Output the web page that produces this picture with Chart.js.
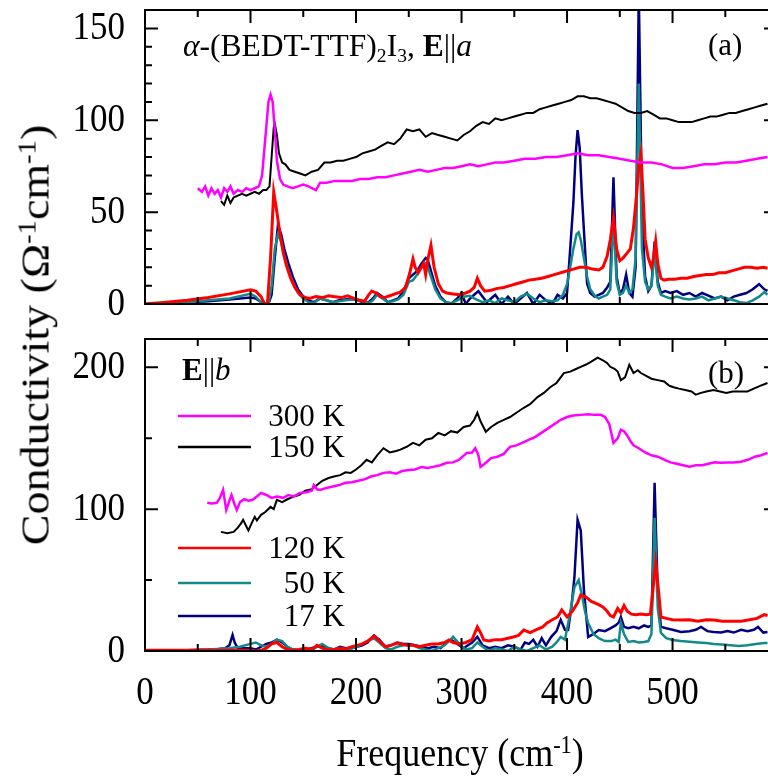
<!DOCTYPE html>
<html>
<head>
<meta charset="utf-8">
<script src="https://cdn.jsdelivr.net/npm/chart.js@4/dist/chart.umd.min.js"></script>
<style>
  html, body { margin: 0; padding: 0; background: #fff; }
  body { width: 768px; height: 778px; overflow: hidden; position: relative;
         font-family: "Liberation Serif", "DejaVu Serif", serif; color: #000; }
  canvas { position: absolute; left: 0; }
  #topChart { top: 0; }
  #botChart { top: 330px; }
  .txt { position: absolute; white-space: nowrap; line-height: 1; }
  sub, sup { font-size: 0.62em; line-height: 0; position: relative; vertical-align: baseline; }
  sub { top: 0.32em; }
  sup { top: -0.55em; }
</style>
</head>
<body>
<canvas id="topChart" width="777" height="338"></canvas>
<canvas id="botChart" width="777" height="448"></canvas>

<div class="txt" style="left:35px; top:335px; font-size:39px; transform:translate(-50%,-50%) rotate(-90deg) scaleX(1.18);">Conductivity (&Omega;<sup>-1</sup>cm<sup>-1</sup>)</div>
<div class="txt" style="left:460px; top:753px; font-size:36px; transform:translate(-50%,-50%) scaleY(1.12);">Frequency (cm<sup>-1</sup>)</div>
<div class="txt" style="left:183px; top:30px; font-size:31.5px;"><i>&alpha;</i>-(BEDT-TTF)<sub>2</sub>I<sub>3</sub>, <b>E</b>||<i>a</i></div>
<div class="txt" style="left:708px; top:29px; font-size:31px;">(a)</div>
<div class="txt" style="left:182px; top:354px; font-size:31px;"><b>E</b>||<i>b</i></div>
<div class="txt" style="left:708px; top:357px; font-size:31px;">(b)</div>

<script>
// legend labels and colours, same order in both panels
const temps = ["300 K", "150 K", "120 K", "50 K", "17 K"]
const colors = ["#ff00ff", "#000000", "#ff0000", "#138a8a", "#000080"]
const widths = [2.5, 2, 3, 2.5, 2.5]

// tick labels
const xTicks = [0, 100, 200, 300, 400, 500]
const aTicks = [0, 50, 100, 150]
const bTicks = [0, 100, 200]

// ---------- panel (a), E || a

const a300f = [50,54,57,60,63,66,69,72,75,78, 81,84,88,92,96,100,104,108,111,114,
  117,119,121,123,125,128,131,135,140,145, 150,155,158,162,166,172,180,188,196,204,
  212,220,228,236,244,252,260,268,276,284, 292,300,308,316,324,332,340,350,360,370,
  380,390,400,410,420,430,440,450,460,470, 480,490,500,510,520,530,540,550,560,570, 580,590]
const a300 = [63,61,64,59,63,60,62,58,63,61, 64,60,62,61,63,62,63,64,70,90,
  110,114,110,95,78,68,65,64,63,64, 65,64,63,62,66,66,67,67,67,68,
  68,69,69,70,71,72,73,72,73,74, 74,75,76,75,76,77,77,78,79,79,
  80,80,81,82,81,81,80,79,78,77, 77,76,74,74,75,76,76,77,77,78, 79,80]

const a150f = [72,75,78,81,84,88,92,96,100,104, 108,112,115,118,120,122,123,125,127,130,
  133,137,142,147,152,158,164,170,176,182, 188,194,200,206,212,218,224,230,236,242,
  248,254,260,266,272,278,284,290,296,302, 308,314,320,326,332,338,344,350,356,362,
  368,374,380,386,392,398,404,410,416,422, 428,434,440,446,452,458,464,470,476,482,
  488,494,500,506,512,518,524,530,536,542, 548,554,560,566,572,578,584,590]
const a150 = [56,54,59,55,58,59,60,59,60,61, 60,62,62,64,80,96,98,92,82,77,
  76,73,72,71,70,72,73,77,77,78, 78,79,80,82,83,84,86,88,87,90,
  95,94,95,91,93,92,91,90,89,92, 94,97,99,98,101,100,101,102,103,104,
  104,106,107,108,109,110,111,113,113,112, 112,111,110,109,107,105,104,104,105,103,
  101,101,100,99,99,99,100,101,102,102, 103,104,104,105,106,107,108,109]

const a120f = [0,20,40,60,80,100,105,110,113,116, 119,122,125,128,131,134,138,142,147,152,
  156,162,168,174,180,186,192,198,204,208, 212,215,219,223,227,232,237,242,247,251,
  254,256,259,261,264,266,268,271,274,278, 282,286,292,298,304,308,312,315,318,322,
  328,334,340,346,352,358,364,370,376,382, 388,394,400,406,412,418,424,430,434,438,
  441,444,447,450,453,457,460,463,466,468, 470,472,474,477,480,482,484,486,489,492,
  496,502,508,514,520,526,532,538,544,550, 556,562,568,574,580,586,590]
const a120 = [0,1,2,3.5,5.5,7.7,7,4,0.5,0, 25,61,50,38,28,21,14,9,5,3.5,
  3,4,3.5,4.5,4,3.5,4.5,3,2,1.5, 5,7,6,4,3.5,4.5,5.5,6.5,9,17,
  24.5,20,17,19,22,16,24,32,20,11, 7,6,5.5,5,6,7,9,14,10,7,
  7.5,8.5,9,10,11,12,13,13.5,14,15, 16,17,18,19,20,20,19,18.5,20,26,
  35,46.8,30,23.6,25,27.8,30,41.6,60,75, 81.8,60,35,25,20,25,34,22,14,13,
  13.5,13.5,14,14,15,15.5,16,16,17,17, 18,19,20,20,19.5,20,19.5]

const a50f = [0,20,40,60,80,100,105,110,114,117, 120,123,126,129,132,136,140,145,150,155,
  160,166,172,178,184,190,196,202,208,212, 216,220,225,230,235,240,245,250,254,258,
  262,266,268,271,275,280,285,290,296,302, 308,312,316,320,326,332,338,344,350,356,
  362,368,374,380,386,391,396,400,403,406, 409,411,413,416,419,422,426,430,434,438,
  441,444,447,450,453,456,459,462,465,468, 471,474,477,480,483,486,489,493,498,504,
  510,516,522,528,534,540,546,552,558,564, 570,576,582,587,590]
const a50 = [0,0.5,1,2,3,5.5,4,1,0,0, 10,30,38,34,26,18,12,6,3,1,
  0.5,3,2,1,1.5,2,2.5,2,1,0.5, 2,5,3,1,1.5,2.5,5,12,13,16,
  20,22,20,15,8,3,1,0.5,2,4, 4.5,3,2,1,2,0.5,3,2,1,4,
  5.6,3,1,2,1.5,2,5,10.8,20,30, 38,39,35,25,15,8,4.6,3,4,5,
  8,47,12,5,6,10,6,8,25,120, 30,12,8,10,28,10,5,4,3,4,
  3,2.5,3,4,2,3,4,3,2,1, 0.5,2,4,6.5,5]

const a17f = [0,20,40,60,80,100,105,110,114,117, 120,123,126,129,132,136,140,145,150,155,
  160,166,172,178,184,190,196,202,208,212, 216,220,225,230,235,240,245,250,254,258,
  262,266,268,271,275,280,285,290,296,300, 304,308,312,316,320,324,328,332,338,344,
  350,356,362,368,374,380,386,391,396,400, 403,406,408,410,412,414,416,419,422,426,
  430,434,438,441,444,447,450,453,456,459, 462,465,468,471,474,477,480,483,486,489,
  493,498,504,510,516,522,528,534,540,546, 552,558,564,570,576,582,587,590]
const a17 = [0,0.5,1,1.5,2.5,3.5,3,1,0,0, 5,25,43,38,30,22,15,8,4,2,
  1,3,2,1,2,2.5,3,2,0.5,1, 3,6,4,1,2,3,7,14,16,18,
  22,25,24,18,10,4,1,0,3,6, 0,3,5,7,4,1,3,5,0,4,
  0,3,6,0,5,2,0,5,3,6, 30,55,80,94.6,85,60,40,11,6,4,
  5,6,9,12,69,15,5.6,8,16,6, 4,20,170,50,15,7,10,34,12,6,
  7,6,7,5,6,4,6,4.6,3,4, 2,4,5,6,8,10.8,8,7.2]

// ---------- panel (b), E || b

const b300f = [59,63,68,71,74,77,80,82,85,87, 90,94,98,102,106,110,115,120,125,131,
  136,141,147,153,158,160,163,166,172,178, 184,190,196,202,208,214,220,226,232,238,
  244,250,256,262,268,274,280,286,292,298, 305,310,313,316,318,322,328,334,340,346,
  352,358,364,370,376,382,388,394,400,406, 413,420,426,432,436,440,444,448,451,454,
  457,460,463,468,474,480,486,492,498,504, 510,516,522,528,534,540,546,552,558,565, 572,578,584,590]
const b300 = [104.5,104,104.5,108,113.6,99.5,106,110,103,99.5, 105,107,106,106.6,109,111.5,110,108,109,108,
  110,109,111.5,112,113,117,114,113.6,115,116, 117,118.6,119,120,121,123,124,125.6,126,125,
  127,127.7,128,129.8,129,130,131,132.7,133,135, 139.7,140,143,138,129.8,132,136,137,139,144,
  145,147,149,151,154,157,160,163,165,166, 166.5,167,166.5,166.5,165,160,146.8,150,156,155,
  152,148,145,143,140,138,137,135,133,132, 131,130,131,131,132,133,132.7,133,133,133.4, 135,137,138,139.7]

const b150f = [72,78,84,88,91,93,96,98,101,104, 106,110,114,119,122,125,130,135,140,146,
  152,158,163,168,174,179,185,190,195,200, 205,210,215,220,226,232,238,242,248,254,
  260,266,272,278,284,290,296,302,308,312, 315,318,323,328,334,340,346,352,359,365,
  372,378,384,390,397,403,409,413,418,423, 429,434,438,441,445,448,451,455,459,463,
  467,470,475,480,486,492,497,501,506,512, 518,522,527,532,539,545,551,557,563,571, 577,583,590]
const b150 = [84,83,84,87,90,92.5,88,85,90,94.6, 92,96,98,101.6,100,106.6,105,107,108.7,110,
  113,114,117,120,122,123,124,126,125.6,128, 131,134.8,133,138,143,140,141,142,144,146.8,
  145,149,150,153.8,152,155,154,158,159,163, 168,162,154.6,158,160.9,163,165,168,171.5,174,
  179,182,186,189,196,197,199,200.4,202,204, 206.8,205,203,200.4,199,197,191,193,201.8,196,
  198,196,194,192,191,190,187,186,185,184, 183,180.7,182,183,184,183,182,183,183,183, 185,187,189]

const b120f = [0,20,40,60,80,100,103,106,110,115, 120,125,130,135,140,146,152,158,163,168,
  174,179,185,190,196,201,206,211,217,222, 228,233,239,245,250,254,260,266,272,278,
  284,288,292,298,304,310,315,318,321,326, 332,338,344,349,354,359,365,371,377,381,
  386,391,395,400,405,410,413,418,423,429, 434,438,441,444,448,451,454,457,461,465,
  470,475,479,481,484,487,489,494,500,508, 516,524,532,539,547,555,565,573,580,587, 590]
const b120 = [0.5,0.5,0.5,0.5,0.5,0.5,0,0,0.5,2, 5,6,3,1,0.5,1,2,1,4,2,
  0.7,1,2,1.5,3,4,5,7,10.6,7, 3,4,5.6,4.5,4,4,3,4,5,5,
  6,7.8,6,5,6,8,17,13,7.8,7, 8,8,9,9.9,11,14.8,13,15,17,19.8,
  22,24,29,24,28,34,39.5,38,35,33, 31,28,25,24,30,27,32,28,26,25.6,
  26,25.6,26,40,62,40,24,23,22,21.9, 22,21,22,21.9,21,21,21,22,23,25.6, 25]

const b50f = [0,20,40,60,80,90,100,105,110,115, 120,125,130,135,140,146,152,158,163,168,
  174,179,185,190,196,201,206,211,217,222, 228,233,239,245,250,254,260,266,272,278,
  284,288,292,298,304,310,315,320,326,332, 338,344,350,356,362,368,374,380,386,390,
  394,398,403,407,411,414,417,420,425,430, 436,442,446,449,451,454,458,463,468,473,
  477,480,483,486,489,494,500,508,516,524, 532,539,547,555,563,571,579,587,590]
const b50 = [0,0.3,0.5,1,2,3,5,6,4,3, 5,8,7,3,1,0.5,1,0.5,3,5,
  2,1,2,1.5,2,3,5,7,9,6, 2,1,3,4,4,4,2,1,0,2,
  4,7,10,5,1,2,6,3,0,2, 1,0,3,1,0,2,4,1,3,6,
  9.9,8,27,45,50,40,28,19.8,12,9, 7,7,8,6.4,19.8,12,6.4,7,6,6.4,
  7,12,94,30,12.7,9,7.8,7,6.5,6, 5.6,5,4.5,4,3.5,4,5,5.6,5.6]

const b17f = [0,20,40,60,70,76,80,83,85,88, 92,100,105,110,115,120,125,130,135,140,
  146,152,158,163,168,174,179,185,190,196, 201,206,211,217,222,228,233,239,245,250,
  256,262,268,274,280,286,290,296,302,306, 310,315,320,326,332,338,344,350,356,360,
  364,368,372,376,380,385,390,394,398,401, 404,407,410,413,416,420,425,430,436,441,
  446,449,451,454,458,463,468,473,477,480, 483,486,489,494,500,508,516,522,527,533,
  539,546,552,558,565,571,577,581,586,590]
const b17 = [0,0.3,0.5,1,1.5,2,4,11.3,6,2, 2,2,1,3,5,6,8,6,3,1,
  0.5,1,2,3,4,2,1,3,2,2, 3,4,6,11,8,3,4,6,5,5,
  4,3,2,3,2,6,8,5,2,4, 6,10,4,2,3,2,4,3,1,6,
  5,8,3,9,4,10,14,22,15,14.8, 30,52,92.5,85,43,9.9,12,14.8,14,16,
  18,20,24,17,16,17,16,18,17,18, 118.6,40,17,16,15,13.4,14,15,17,14,
  13.4,13,14,13,15,14,15,17,13,13.4]

const xMax = 599

function pts(f, v) {
  if (f.length !== v.length) console.warn("length mismatch", f.length, v.length)
  return f.map((x, i) => ({ x: x, y: v[i] }))
}

function makeSets(series) {
  return series.map((s, i) => ({
    label: temps[i],
    data: pts(s[0], s[1]),
    borderColor: colors[i],
    borderWidth: widths[i],
    pointRadius: 0,
    tension: 0,
    order: i
  }))
}

// box with inward ticks on all four sides
const frame = {
  id: "frame",
  afterDatasetsDraw(chart, args, opts) {
    const { ctx, chartArea: a, scales: { x, y } } = chart
    ctx.save()
    ctx.strokeStyle = "#000"
    ctx.lineWidth = 2
    ctx.beginPath()
    for (let v = 0; v <= x.max; v += 50) {
      const px = x.getPixelForValue(v)
      const len = v % 100 === 0 ? 13 : 7
      ctx.moveTo(px, a.top); ctx.lineTo(px, a.top + len)
      ctx.moveTo(px, a.bottom); ctx.lineTo(px, a.bottom - len)
    }
    for (let v = 0; v <= y.max; v += opts.minor) {
      const py = y.getPixelForValue(v)
      const len = v % opts.major === 0 ? 13 : 7
      ctx.moveTo(a.left, py); ctx.lineTo(a.left + len, py)
      ctx.moveTo(a.right, py); ctx.lineTo(a.right - len, py)
    }
    ctx.stroke()
    ctx.strokeRect(a.left, a.top, a.right - a.left, a.bottom - a.top)
    ctx.restore()
  }
}

// tick numbers, a little taller than wide like the original print
const tickText = {
  id: "tickText",
  afterDraw(chart, args, opts) {
    const { ctx, chartArea: a, scales: { x, y } } = chart
    ctx.save()
    ctx.font = "35px 'Liberation Serif'"
    ctx.fillStyle = "#000"
    ctx.textBaseline = "middle"
    const put = (txt, px, py) => {
      ctx.save()
      ctx.translate(px, py)
      ctx.scale(1, 1.16)
      ctx.fillText(txt, 0, 0)
      ctx.restore()
    }
    ctx.textAlign = "right"
    opts.yTicks.forEach(v => put(String(v), a.left - 20, y.getPixelForValue(v)))
    if (opts.showX) {
      ctx.textAlign = "center"
      xTicks.forEach(v => put(String(v), x.getPixelForValue(v), a.bottom + 42))
    }
    ctx.restore()
  }
}

// hand placed legend inside panel (b)
const legendRows = [86, 117, 218, 253, 286]
const keyLegend = {
  id: "keyLegend",
  afterDatasetsDraw(chart) {
    const ctx = chart.ctx
    ctx.save()
    ctx.font = "31px 'Liberation Serif'"
    ctx.textAlign = "right"
    ctx.textBaseline = "middle"
    chart.data.datasets.forEach((ds, i) => {
      const yy = legendRows[i]
      ctx.strokeStyle = ds.borderColor
      ctx.lineWidth = 2.5
      ctx.beginPath()
      ctx.moveTo(178, yy); ctx.lineTo(251, yy)
      ctx.stroke()
      ctx.fillStyle = "#000"
      ctx.fillText(ds.label, 345, yy + 2)
    })
    ctx.restore()
  }
}

function noPad(s) {
  s.paddingTop = 0
  s.paddingBottom = 0
  s.paddingLeft = 0
  s.paddingRight = 0
}

function panel(id, series, yMax, yMajor, yMinor, yTicks, showX, padTop, xHeight, extra) {
  return new Chart(document.getElementById(id), {
    type: "line",
    data: { datasets: makeSets(series) },
    plugins: [frame, tickText].concat(extra),
    options: {
      responsive: false,
      animation: false,
      layout: { padding: { top: padTop, left: 0, right: 0, bottom: showX ? 0 : xHeight } },
      plugins: {
        legend: { display: false },
        tooltip: { enabled: false },
        frame: { major: yMajor, minor: yMinor },
        tickText: { yTicks: yTicks, showX: showX }
      },
      scales: {
        x: {
          type: "linear",
          min: 0,
          max: xMax,
          display: showX,
          grid: { display: false, drawTicks: false },
          border: { display: false },
          ticks: { display: false },
          afterBuildTicks: s => { s.ticks = xTicks.map(v => ({ value: v })) },
          afterFit: s => { s.height = xHeight; noPad(s) }
        },
        y: {
          min: 0,
          max: yMax,
          grid: { display: false, drawTicks: false },
          border: { display: false },
          ticks: { display: false },
          afterBuildTicks: s => { s.ticks = yTicks.map(v => ({ value: v })) },
          afterFit: s => { s.width = 145; noPad(s) }
        }
      }
    }
  })
}

panel("topChart",
  [[a300f, a300], [a150f, a150], [a120f, a120], [a50f, a50], [a17f, a17]],
  160, 50, 10, aTicks, false, 10, 17, [])

panel("botChart",
  [[b300f, b300], [b150f, b150], [b120f, b120], [b50f, b50], [b17f, b17]],
  220, 100, 50, bTicks, true, 9, 127, [keyLegend])
</script>
</body>
</html>
